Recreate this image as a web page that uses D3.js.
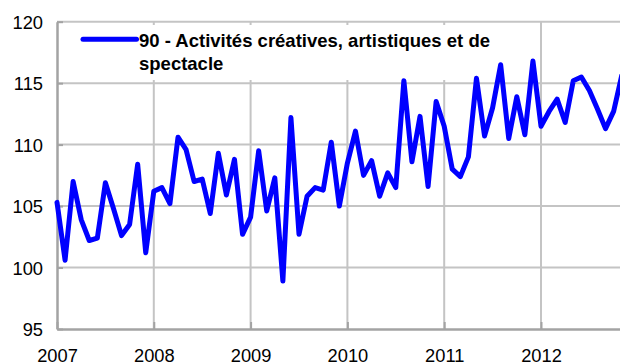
<!DOCTYPE html>
<html>
<head>
<meta charset="utf-8">
<script src="https://cdn.jsdelivr.net/npm/d3@7"></script>
<style>
  html, body { margin: 0; padding: 0; background: #fff; }
  svg { display: block; }
  text { font-family: "Liberation Sans", Arial, sans-serif; fill: #000; }
</style>
</head>
<body>
<div id="chart"></div>
<script>
// ---- Data ----
const seriesName = "90 - Activités créatives, artistiques et de";
const seriesName2 = "spectacle";
const startYear = 2007;
const yearLabels = ["2007", "2008", "2009", "2010", "2011", "2012"];
const yTicks = [95, 100, 105, 110, 115, 120];
// Monthly index values, Jan 2007 onward
const values2007 = [105.3, 100.6, 107.0, 103.9, 102.2, 102.4, 106.9, 104.8, 102.6, 103.5, 108.4, 101.2];
const values2008 = [106.2, 106.5, 105.2, 110.6, 109.6, 107.0, 107.2, 104.4, 109.3, 105.9, 108.8, 102.7];
const values2009 = [104.1, 109.5, 104.6, 107.3, 98.9, 112.2, 102.7, 105.8, 106.5, 106.3, 110.2, 105.0];
const values2010 = [108.5, 111.1, 107.5, 108.7, 105.8, 107.7, 106.5, 115.2, 108.6, 112.3, 106.6, 113.5];
const values2011 = [111.5, 108.0, 107.4, 109.0, 115.4, 110.7, 113.0, 116.5, 110.5, 113.9, 110.8, 116.8];
const values2012 = [111.5, 112.7, 113.7, 111.8, 115.2, 115.5, 114.4, 112.9, 111.3, 112.7, 115.6];

const values = [].concat(values2007, values2008, values2009, values2010, values2011, values2012);

// ---- Layout ----
const W = 620, H = 363;
const plotLeft = 57, plotBottom = 329, plotTop = 21.7;
const pxPerYear = 96.8;

const svg = d3.select("#chart").append("svg")
  .attr("width", W).attr("height", H);

const x = d3.scaleLinear().domain([0, 72]).range([plotLeft, plotLeft + 6 * pxPerYear]);
const y = d3.scaleLinear().domain([95, 120]).range([plotBottom, plotTop]);

const yearIdx = yearLabels.map((d, i) => i * 12);
const gridCol = "#c4c4c4";
const axisCol = "#a3a3a3";

// Gridlines
svg.append("g").selectAll("line")
  .data(yTicks.filter(v => v > 95))
  .join("line")
  .attr("x1", x(0)).attr("x2", x(72))
  .attr("y1", d => y(d)).attr("y2", d => y(d))
  .attr("stroke", gridCol).attr("stroke-width", 2);

svg.append("g").selectAll("line")
  .data(yearIdx.filter(v => v > 0))
  .join("line")
  .attr("x1", d => x(d)).attr("x2", d => x(d))
  .attr("y1", y(120)).attr("y2", y(95))
  .attr("stroke", gridCol).attr("stroke-width", 2);

// Legend box (covers gridlines)
svg.append("rect")
  .attr("x", 66).attr("y", 25)
  .attr("width", 430).attr("height", 55)
  .attr("fill", "#fff");

// Axes
const yAxis = d3.axisLeft(y).tickValues(yTicks).tickSize(-6).tickSizeOuter(0).tickPadding(14);
const gy = svg.append("g").attr("transform", `translate(${plotLeft},0)`).call(yAxis);
gy.select(".domain").attr("stroke", axisCol).attr("stroke-width", 2.5);
gy.selectAll(".tick line").attr("stroke", axisCol).attr("stroke-width", 2);
gy.selectAll(".tick text")
  .attr("font-size", "18.3px")
  .attr("font-family", '"Liberation Sans", Arial, sans-serif')
  .attr("dy", "0.36em")
  .attr("fill", "#000");

const xAxis = d3.axisBottom(x).tickValues(yearIdx).tickSize(-7).tickSizeOuter(0).tickPadding(20)
  .tickFormat(d => yearLabels[d / 12]);
const gx = svg.append("g").attr("transform", `translate(0,${plotBottom})`).call(xAxis);
gx.select(".domain").attr("stroke", axisCol).attr("stroke-width", 2.5);
gx.selectAll(".tick line").attr("stroke", axisCol).attr("stroke-width", 2);
gx.selectAll(".tick text")
  .attr("font-size", "18.3px")
  .attr("font-family", '"Liberation Sans", Arial, sans-serif')
  .attr("fill", "#000");

// Data line
const line = d3.line().x((d, i) => x(i)).y(d => y(d));
svg.append("path")
  .datum(values)
  .attr("d", line)
  .attr("fill", "none")
  .attr("stroke", "#0000ff")
  .attr("stroke-width", 5)
  .attr("stroke-linejoin", "round")
  .attr("stroke-linecap", "round");

// Legend
svg.append("line")
  .attr("x1", 83).attr("x2", 136.5)
  .attr("y1", 39.3).attr("y2", 39.3)
  .attr("stroke", "#0000ff").attr("stroke-width", 5)
  .attr("stroke-linecap", "round");
svg.append("text")
  .attr("x", 139).attr("y", 46.7)
  .attr("font-size", "18.5px").attr("font-weight", "bold")
  .text(seriesName);
svg.append("text")
  .attr("x", 139).attr("y", 69.5)
  .attr("font-size", "18.5px").attr("font-weight", "bold")
  .text(seriesName2);
</script>
</body>
</html>
